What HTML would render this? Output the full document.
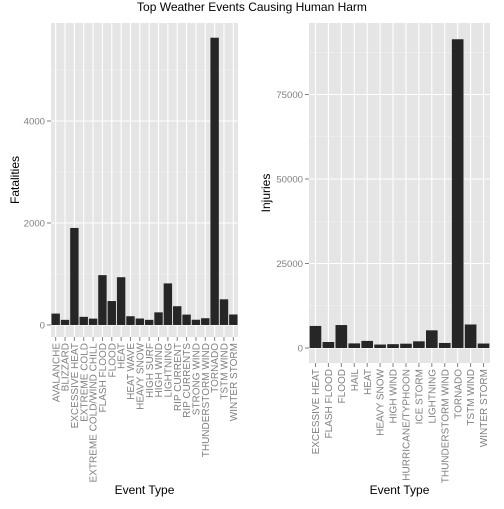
<!DOCTYPE html>
<html><head><meta charset="utf-8"><style>
body{margin:0;background:#fff}
text{font-family:"Liberation Sans",sans-serif}
</style></head><body>
<svg id="c" width="504" height="504" xmlns="http://www.w3.org/2000/svg">
<text x="252" y="11" text-anchor="middle" font-size="12">Top Weather Events Causing Human Harm</text>
</svg>
<script>
const fatCats=["AVALANCHE","BLIZZARD","EXCESSIVE HEAT","EXTREME COLD","EXTREME COLD/WIND CHILL","FLASH FLOOD","FLOOD","HEAT","HEAT WAVE","HEAVY SNOW","HIGH SURF","HIGH WIND","LIGHTNING","RIP CURRENT","RIP CURRENTS","STRONG WIND","THUNDERSTORM WIND","TORNADO","TSTM WIND","WINTER STORM"];
const fatVals=[224,101,1903,160,125,978,470,937,172,127,101,248,816,368,204,103,133,5633,504,206];
const fatTicks=[0,2000,4000];
const fatMinor=[1000,3000,5000];
const injCats=["EXCESSIVE HEAT","FLASH FLOOD","FLOOD","HAIL","HEAT","HEAVY SNOW","HIGH WIND","HURRICANE/TYPHOON","ICE STORM","LIGHTNING","THUNDERSTORM WIND","TORNADO","TSTM WIND","WINTER STORM"];
const injVals=[6525,1777,6789,1361,2100,1021,1137,1275,1975,5230,1488,91346,6957,1321];
const injTicks=[0,25000,50000,75000];
const injMinor=[12500,37500,62500,87500];

const svg=document.getElementById('c');
const NS="http://www.w3.org/2000/svg";
function mk(tag,attrs,parent){const e=document.createElementNS(NS,tag);for(const k in attrs)e.setAttribute(k,attrs[k]);(parent||svg).appendChild(e);return e;}

function panel(p){
  const g=mk('g',{});
  
  
  const y=v=>p.y0-(v/p.unitV)*p.unitPx;
  const bw=(p.x1-p.x0)/p.cats.length;
  const bx=i=>p.x0+bw*(i+0.5);
  const bg=mk('rect',{x:p.x0,y:p.top,width:p.x1-p.x0,height:p.bot-p.top,fill:'#e5e5e5'},g);
  
  
  p.minor.forEach(v=>{mk('line',{x1:p.x0,x2:p.x1,y1:y(v),y2:y(v),stroke:'#f2f2f2','stroke-width':0.6},g);});
  p.ticks.forEach(v=>{
    mk('line',{x1:p.x0,x2:p.x1,y1:y(v),y2:y(v),stroke:'#fff','stroke-width':1.1},g);
    mk('line',{x1:p.x0-4,x2:p.x0,y1:y(v),y2:y(v),stroke:'#7f7f7f','stroke-width':1},g);
    const t=mk('text',{x:p.x0-6,y:y(v)+3.5,'text-anchor':'end','font-size':9.6,fill:'#7f7f7f'},g);
    t.textContent=v;
    
    
  });
  p.cats.forEach((c,i)=>{
    mk('line',{x1:bx(i),x2:bx(i),y1:p.top,y2:p.bot,stroke:'#fff','stroke-width':1.1},g);
  });
  p.cats.forEach((c,i)=>{
    const r=mk('rect',{x:bx(i)-bw*0.45,width:bw*0.9,y:y(p.vals[i]),height:y(0)-y(p.vals[i]),fill:'#262626'},g);
    
    
    mk('line',{x1:bx(i),x2:bx(i),y1:p.bot,y2:p.bot+4,stroke:'#7f7f7f','stroke-width':1},g);
    const t=mk('text',{transform:`translate(${bx(i)+3.6},${p.bot+6}) rotate(-90)`,'text-anchor':'end','font-size':10,fill:'#7f7f7f'},g);
    t.textContent=c;
    
    
  });
  const yt=mk('text',{transform:`translate(${p.ytx},${(p.top+p.bot)/2}) rotate(-90)`,'text-anchor':'middle','font-size':12},g);
  yt.textContent=p.ytitle;
  
  
  const xt=mk('text',{x:(p.x0+p.x1)/2,y:494,'text-anchor':'middle','font-size':12},g);
  xt.textContent='Event Type';
  
  
}
panel({name:'fatalities',cats:fatCats,vals:fatVals,ticks:fatTicks,minor:fatMinor,x0:51,x1:238,top:23,bot:337,y0:325,unitV:2000,unitPx:102,ytitle:'Fatalities',ytx:19});
panel({name:'injuries',cats:injCats,vals:injVals,ticks:injTicks,minor:injMinor,x0:309,x1:490,top:23,bot:363,y0:348,unitV:25000,unitPx:84.5,ytitle:'Injuries',ytx:270});
</script>
</body></html>
